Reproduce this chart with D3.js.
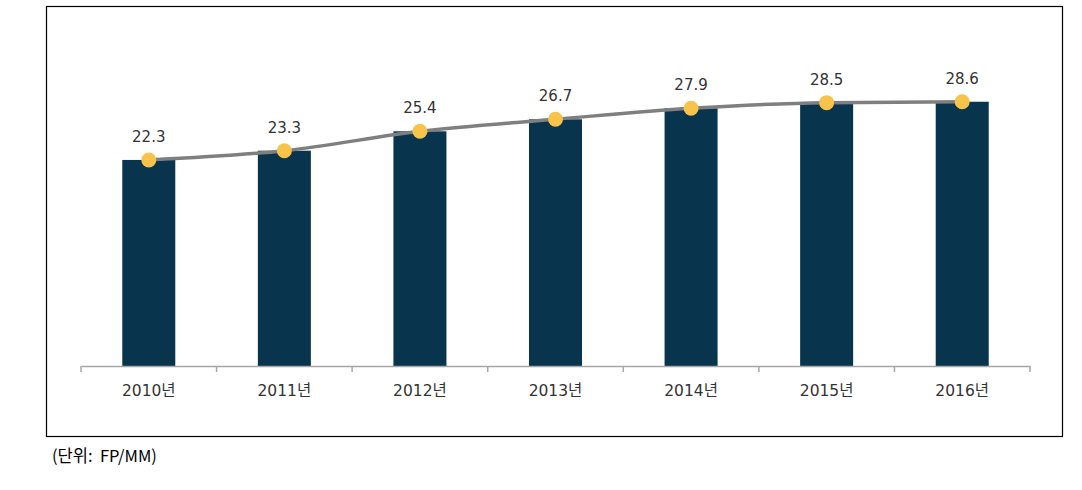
<!DOCTYPE html>
<html>
<head>
<meta charset="utf-8">
<script src="https://cdn.jsdelivr.net/npm/d3@7"></script>
<style>
	body { margin: 0; background: #fff; }
	svg text { font-family: "DejaVu Sans", "Noto Sans CJK KR", sans-serif; }
</style>
</head>
<body>
<div id="chart"></div>
<script>
//Dados
var years = ["2010년", "2011년", "2012년", "2013년", "2014년", "2015년", "2016년"];
var values = [22.3, 23.3, 25.4, 26.7, 27.9, 28.5, 28.6];
var unitLabel = "(단위:  FP/MM)";

(function () {
	'use strict';
	var W = 1082, H = 490;
	var svg = d3.select("#chart").append("svg")
		.attr("width", W)
		.attr("height", H);

	//Moldura
	svg.append("rect")
		.attr("x", 46.5).attr("y", 6.5)
		.attr("width", 1016).attr("height", 430)
		.attr("fill", "none")
		.attr("stroke", "#000")
		.attr("stroke-width", 1.2);

	//Escalas
	var x = d3.scaleBand()
		.domain(years)
		.range([81, 1030])
		.paddingInner(0)
		.paddingOuter(0);
	var y = d3.scaleLinear()
		.domain([0, 35])
		.range([366, 42.6]);

	//Barras
	var barW = 53;
	svg.selectAll(".bar")
		.data(values)
		.enter()
		.append("rect")
		.attr("class", "bar")
		.attr("x", function(d, i) { return x(years[i]) + x.bandwidth() / 2 - barW / 2; })
		.attr("y", function(d) { return y(d); })
		.attr("width", barW)
		.attr("height", function(d) { return y(0) - y(d); })
		.attr("fill", "#08344d");

	//Eixo x
	var axis = svg.append("g")
		.attr("transform", "translate(0,366)")
		.call(d3.axisBottom(x).tickSize(0).tickPadding(19));
	axis.select(".domain").attr("stroke", "#a6a6a6").attr("stroke-width", 1.5);
	axis.selectAll("text")
		.attr("fill", "#333")
		.style("font-size", "15.5px")
		.style("font-family", "'DejaVu Sans', 'Noto Sans CJK KR', sans-serif");
	//marcas entre categorias
	var edges = years.map(function(d) { return x(d); }).concat([x.range()[1]]);
	axis.selectAll(".sep")
		.data(edges)
		.enter()
		.append("line")
		.attr("class", "sep")
		.attr("x1", function(d) { return d; })
		.attr("x2", function(d) { return d; })
		.attr("y1", 0).attr("y2", 6)
		.attr("stroke", "#a6a6a6")
		.attr("stroke-width", 1.5);

	//Linha
	var line = d3.line()
		.x(function(d, i) { return x(years[i]) + x.bandwidth() / 2; })
		.y(function(d) { return y(d); })
		.curve(d3.curveMonotoneX);
	svg.append("path")
		.datum(values)
		.attr("d", line)
		.attr("fill", "none")
		.attr("stroke", "#7f7f7f")
		.attr("stroke-width", 3.5);

	//Pontos
	svg.selectAll(".pt")
		.data(values)
		.enter()
		.append("circle")
		.attr("class", "pt")
		.attr("cx", function(d, i) { return x(years[i]) + x.bandwidth() / 2; })
		.attr("cy", function(d) { return y(d); })
		.attr("r", 7.5)
		.attr("fill", "#f7c34a");

	//Rótulos
	svg.selectAll(".lbl")
		.data(values)
		.enter()
		.append("text")
		.attr("class", "lbl")
		.attr("x", function(d, i) { return x(years[i]) + x.bandwidth() / 2; })
		.attr("y", function(d) { return y(d) - 18; })
		.attr("text-anchor", "middle")
		.attr("fill", "#333")
		.style("font-size", "15px")
		.text(function(d) { return d.toFixed(1); });

	//Unidade
	svg.append("text")
		.attr("x", 52)
		.attr("y", 462)
		.attr("fill", "#000")
		.style("font-family", "'Noto Sans CJK KR', sans-serif")
		.style("font-size", "16.5px")
		.style("white-space", "pre")
		.text(unitLabel);
}());
</script>
</body>
</html>
